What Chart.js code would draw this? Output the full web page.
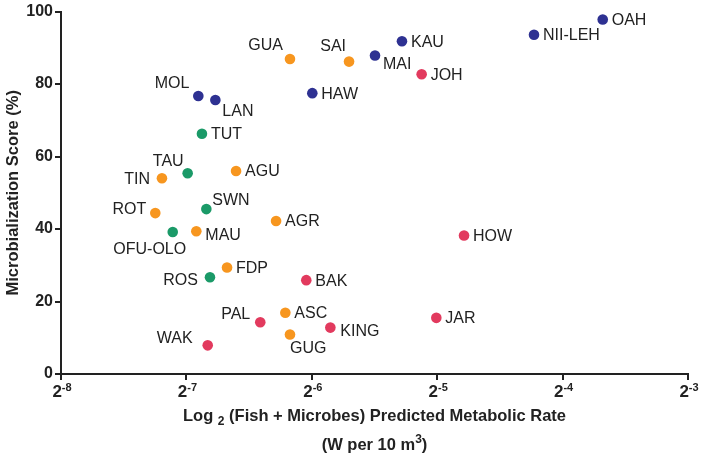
<!DOCTYPE html>
<html>
<head>
<meta charset="utf-8">
<script src="https://cdn.jsdelivr.net/npm/chart.js@4"></script>
<style>
  html, body { margin: 0; padding: 0; background: #fff; }
  #wrap { width: 702px; height: 456px; }
</style>
</head>
<body>
<div id="wrap"><canvas id="chart" width="702" height="456"></canvas></div>
<script>
// Sites and their values (x in log2 units of predicted metabolic rate)
const siteNames = ['MOL', 'LAN', 'TUT', 'TAU', 'TIN', 'AGU', 'ROT', 'SWN', 'OFU-OLO', 'MAU',
    'FDP', 'ROS', 'WAK', 'GUA', 'SAI', 'MAI', 'KAU', 'JOH', 'HAW', 'NII-LEH',
    'OAH', 'AGR', 'HOW', 'BAK', 'PAL', 'ASC', 'GUG', 'KING', 'JAR'];
const log2Rate = [-6.905, -6.769, -6.876, -6.990, -7.195, -6.604, -7.248, -6.841, -7.109, -6.921,
    -6.676, -6.812, -6.830, -6.174, -5.703, -5.496, -5.281, -5.124, -5.996, -4.228,
    -3.680, -6.285, -4.786, -6.044, -6.411, -6.211, -6.174, -5.852, -5.007];
const microbialization = [76.7, 75.6, 66.3, 55.4, 54.0, 56.0, 44.4, 45.5, 39.2, 39.4,
    29.4, 26.7, 7.9, 86.9, 86.2, 87.9, 91.8, 82.7, 77.5, 93.6,
    97.8, 42.2, 38.2, 25.9, 14.3, 16.9, 10.9, 12.8, 15.5];
const siteRegion = ['Hawaii', 'Hawaii', 'Samoa', 'Samoa', 'Marianas', 'Marianas', 'Marianas', 'Samoa', 'Samoa', 'Marianas',
    'Marianas', 'Samoa', 'PRIA', 'Marianas', 'Marianas', 'Hawaii', 'Hawaii', 'PRIA', 'Hawaii', 'Hawaii',
    'Hawaii', 'Marianas', 'PRIA', 'PRIA', 'PRIA', 'Marianas', 'Marianas', 'PRIA', 'PRIA'];
const regions = ['Hawaii', 'Marianas', 'PRIA', 'Samoa'];
const xTicks = [-8, -7, -6, -5, -4, -3];
const yTicks = [0, 20, 40, 60, 80, 100];

// styling
const regionColors = { Hawaii: '#2e3192', Marianas: '#f7961f', PRIA: '#e23a5e', Samoa: '#1b9a68' };
// label placement: [dx, dy, align]
const labelPlace = {
    'MOL': [-9, -13, 'right'], 'LAN': [7, 11, 'left'], 'TAU': [-4, -13, 'right'],
    'TIN': [-12, 0, 'right'], 'ROT': [-9, -5, 'right'], 'SWN': [6, -10, 'left'],
    'OFU-OLO': [-23, 17, 'center'], 'MAU': [9, 3, 'left'], 'ROS': [-12, 2, 'right'],
    'WAK': [-15, -8, 'right'], 'PAL': [-10, -9, 'right'], 'GUG': [0, 13, 'left'],
    'KING': [10, 3, 'left'], 'GUA': [-7, -14, 'right'], 'SAI': [-3, -16, 'right'],
    'MAI': [8, 8, 'left']
};
const ink = '#222';
const fam = '"Liberation Sans", Arial, sans-serif';

const datasets = regions.map(function(r) {
    const pts = [];
    siteNames.forEach(function(n, i) {
        if (siteRegion[i] === r) pts.push({ x: log2Rate[i], y: microbialization[i], name: n });
    });
    return {
        label: r,
        data: pts,
        backgroundColor: regionColors[r],
        borderWidth: 0,
        pointRadius: 5.3,
        pointHoverRadius: 5.3
    };
});

// draw text pieces with their own font/offset, centred on cx
function drawPieces(ctx, pieces, cx, baseY) {
    let total = 0;
    pieces.forEach(function(p) {
        ctx.font = p.font;
        p.w = ctx.measureText(p.t).width;
        total += p.w;
    });
    let x = cx - total / 2;
    ctx.textAlign = 'left';
    ctx.textBaseline = 'alphabetic';
    pieces.forEach(function(p) {
        ctx.font = p.font;
        ctx.fillText(p.t, x, baseY + (p.dy || 0));
        x += p.w;
    });
}

const decorPlugin = {
    id: 'decor',
    afterDatasetsDraw: function(chart) {
        const ctx = chart.ctx;
        ctx.save();
        ctx.fillStyle = ink;
        ctx.font = '16px ' + fam;
        chart.data.datasets.forEach(function(ds, di) {
            const meta = chart.getDatasetMeta(di);
            meta.data.forEach(function(el, i) {
                const name = ds.data[i].name;
                const p = labelPlace[name] || [9, 0, 'left'];
                ctx.textAlign = p[2];
                ctx.textBaseline = 'middle';
                ctx.fillText(name, el.x + p[0], el.y + p[1] + 1);
            });
        });
        ctx.restore();
    },
    afterDraw: function(chart) {
        const ctx = chart.ctx;
        const xs = chart.scales.x;
        const area = chart.chartArea;
        ctx.save();
        ctx.fillStyle = ink;
        const big = 'bold 17px ' + fam;
        const sml = 'bold 11px ' + fam;
        const ttl = 'bold 16.5px ' + fam;
        const ttlSml = 'bold 12px ' + fam;
        xTicks.forEach(function(v) {
            drawPieces(ctx, [
                { t: '2', font: big },
                { t: String(v), font: sml, dy: -6 }
            ], xs.getPixelForValue(v) + 1, area.bottom + 23);
        });
        const cx = (area.left + area.right) / 2;
        drawPieces(ctx, [
            { t: 'Log ', font: ttl },
            { t: '2', font: ttlSml, dy: 4 },
            { t: ' (Fish + Microbes) Predicted Metabolic Rate', font: ttl }
        ], cx, area.bottom + 47);
        drawPieces(ctx, [
            { t: '(W per 10 m', font: ttl },
            { t: '3', font: ttlSml, dy: -7 },
            { t: ')', font: ttl }
        ], cx, area.bottom + 76);
        // y title
        ctx.translate(13, (area.top + area.bottom) / 2);
        ctx.rotate(-Math.PI / 2);
        ctx.font = ttl;
        ctx.textAlign = 'center';
        ctx.textBaseline = 'middle';
        ctx.fillText('Microbialization Score (%)', 0, 0);
        ctx.restore();
    }
};

new Chart(document.getElementById('chart').getContext('2d'), {
    type: 'scatter',
    data: { datasets: datasets },
    options: {
        responsive: false,
        animation: false,
        events: [],
        layout: { padding: { left: 0, right: 14, top: 10, bottom: 0 } },
        plugins: { legend: { display: false }, tooltip: { enabled: false } },
        scales: {
            x: {
                type: 'linear',
                min: -8,
                max: -3,
                afterFit: function(s) { s.height = 82; },
                afterBuildTicks: function(s) { s.ticks = xTicks.map(function(v) { return { value: v }; }); },
                grid: { drawOnChartArea: false, drawTicks: true, tickLength: 6, color: ink, lineWidth: 2 },
                border: { color: ink, width: 2 },
                ticks: { display: false }
            },
            y: {
                min: 0,
                max: 100,
                afterFit: function(s) { s.width = 61; },
                afterBuildTicks: function(s) { s.ticks = yTicks.map(function(v) { return { value: v }; }); },
                grid: { drawOnChartArea: false, drawTicks: true, tickLength: 6, color: ink, lineWidth: 2 },
                border: { color: ink, width: 2 },
                ticks: {
                    color: ink,
                    padding: 2,
                    font: { family: fam, size: 16, weight: 'bold' }
                }
            }
        }
    },
    plugins: [decorPlugin]
});
</script>
</body>
</html>
